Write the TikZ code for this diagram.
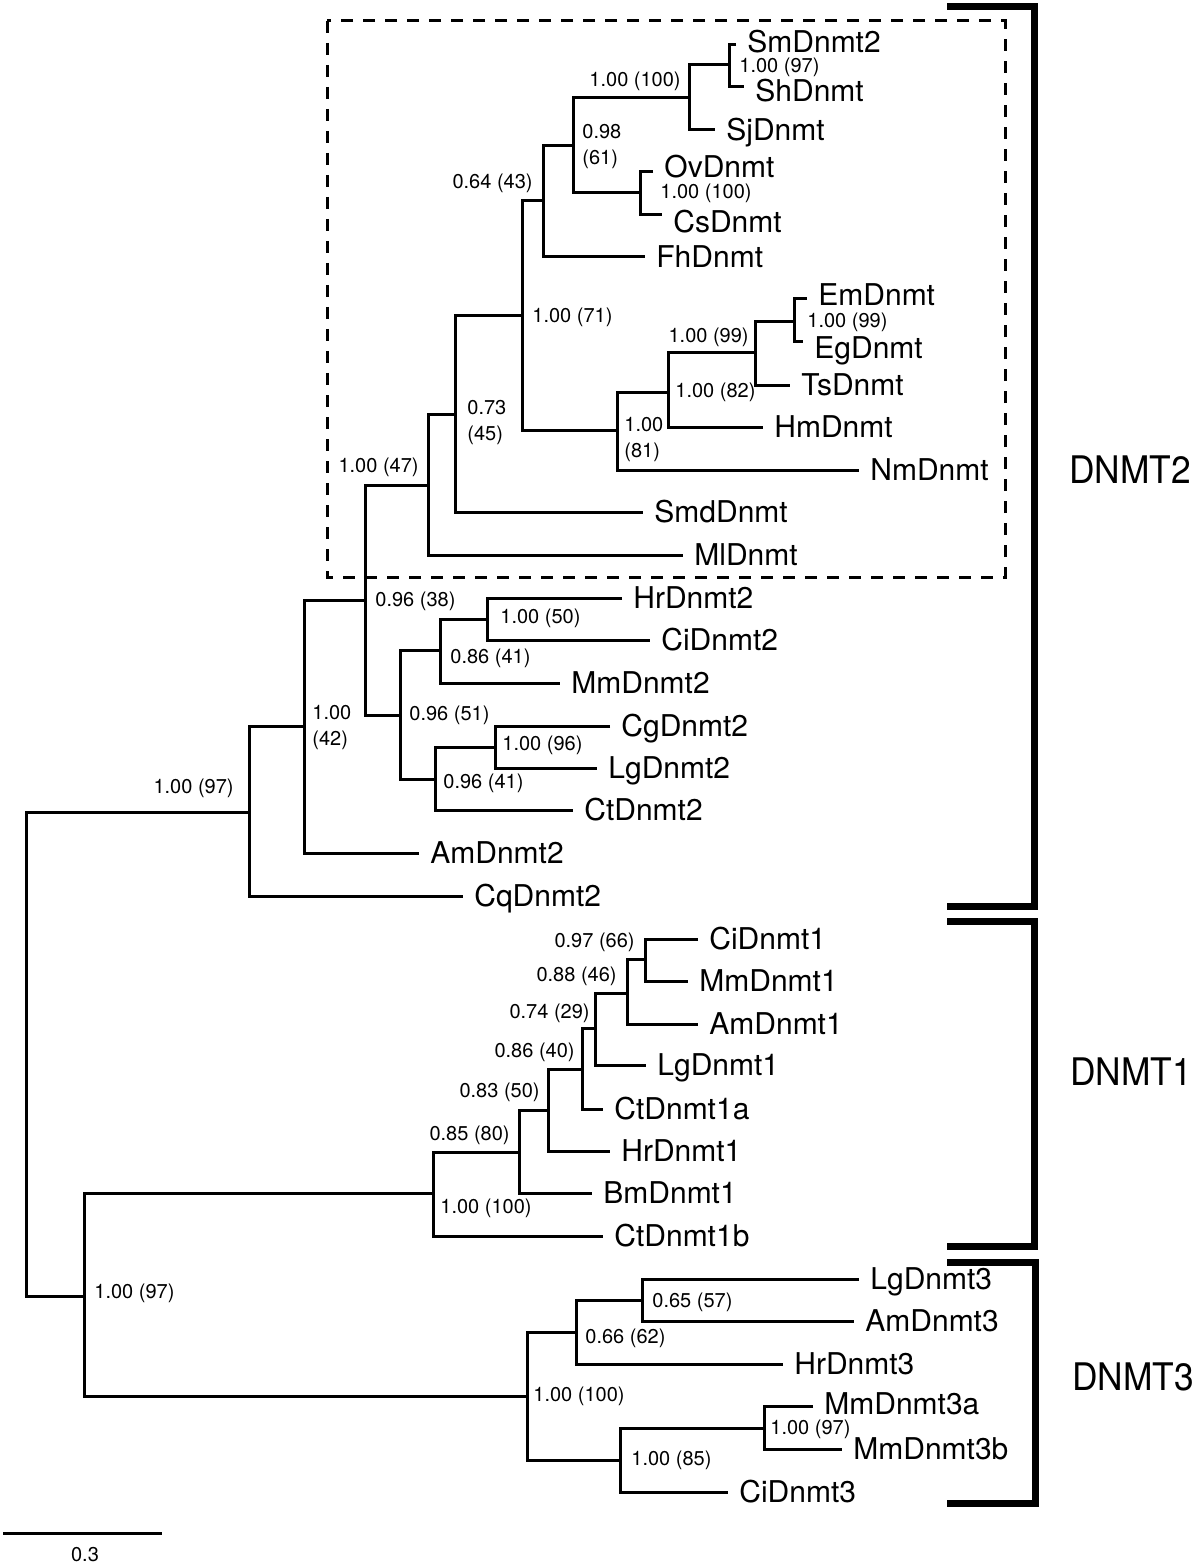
\documentclass[tikz,border=0pt]{standalone}
\usepackage{fontspec}
\setmainfont{TeX Gyre Heros}
\begin{document}
\begin{tikzpicture}[x=0.5pt,y=-0.5pt,
  br/.style={line width=1.5pt},
  leaf/.style={anchor=west, inner xsep=5.5pt, inner ysep=0pt, font=\fontsize{15}{18}\selectfont, text height=10.8pt, text depth=0pt},
  bs/.style={font=\fontsize{10}{13}\selectfont, inner sep=0pt, text height=7.3pt, text depth=2.1pt},
  bsr/.style={bs, anchor=west},
  bsl/.style={bs, anchor=east},
  bs2/.style={font=\fontsize{10}{13}\selectfont, inner sep=0pt, align=left, anchor=west},
  clade/.style={line width=3.5pt, line join=miter},
  cladelbl/.style={font=\fontsize{19}{22}\selectfont, xscale=0.93, inner sep=0pt},
  dbox/.style={line width=1.5pt, dash pattern=on 6pt off 5pt}
]
\useasboundingbox (0,0) rectangle (1200,1567);

% ---------- leaves ----------
\node[leaf, text depth=3.5pt] (SmDnmt2) at (736,45) {SmDnmt2};
\node[leaf, text height=14.8pt] (ShDnmt) at (744,87) {ShDnmt};
\node[leaf] (SjDnmt) at (715,130) {SjDnmt};
\node[leaf, text depth=5pt] (OvDnmt) at (653,172) {OvDnmt};
\node[leaf, text height=17.8pt] (CsDnmt) at (662,215) {CsDnmt};
\node[leaf] (FhDnmt) at (645,257) {FhDnmt};
\node[leaf, text depth=4pt] (EmDnmt) at (807,299) {EmDnmt};
\node[leaf, text height=16.8pt] (EgDnmt) at (803,342) {EgDnmt};
\node[leaf] (TsDnmt) at (790,385) {TsDnmt};
\node[leaf] (HmDnmt) at (763,427) {HmDnmt};
\node[leaf] (NmDnmt) at (859,470) {NmDnmt};
\node[leaf] (SmdDnmt) at (643,512) {SmdDnmt};
\node[leaf] (MlDnmt) at (683,555) {MlDnmt};
\node[leaf] (HrDnmt2) at (622,598) {HrDnmt2};
\node[leaf] (CiDnmt2) at (650,640) {CiDnmt2};
\node[leaf] (MmDnmt2) at (560,683) {MmDnmt2};
\node[leaf] (CgDnmt2) at (610,726) {CgDnmt2};
\node[leaf] (LgDnmt2) at (597,768) {LgDnmt2};
\node[leaf] (CtDnmt2) at (573,810) {CtDnmt2};
\node[leaf] (AmDnmt2) at (419,853) {AmDnmt2};
\node[leaf] (CqDnmt2) at (463,896) {CqDnmt2};
\node[leaf] (CiDnmt1) at (698,939) {CiDnmt1};
\node[leaf] (MmDnmt1) at (688,981) {MmDnmt1};
\node[leaf] (AmDnmt1) at (698,1024) {AmDnmt1};
\node[leaf] (LgDnmt1) at (646,1065) {LgDnmt1};
\node[leaf] (CtDnmt1a) at (603,1109) {CtDnmt1a};
\node[leaf] (HrDnmt1) at (610,1151) {HrDnmt1};
\node[leaf] (BmDnmt1) at (592,1193) {BmDnmt1};
\node[leaf] (CtDnmt1b) at (603,1236) {CtDnmt1b};
\node[leaf] (LgDnmt3) at (859,1279) {LgDnmt3};
\node[leaf] (AmDnmt3) at (854,1321) {AmDnmt3};
\node[leaf] (HrDnmt3) at (783,1364) {HrDnmt3};
\node[leaf, text depth=2pt] (MmDnmt3a) at (813,1406) {MmDnmt3a};
\node[leaf] (MmDnmt3b) at (842,1449) {MmDnmt3b};
\node[leaf] (CiDnmt3) at (728,1492) {CiDnmt3};

% ---------- internal nodes ----------
\coordinate (nSmSh) at (729,65);
\coordinate (nA) at (689,98);
\coordinate (nOvCs) at (640,193);
\coordinate (nB) at (573,146);
\coordinate (nC) at (543,201);
\coordinate (nEmEg) at (794,322);
\coordinate (nTs) at (755,353);
\coordinate (nHm) at (668,392);
\coordinate (nNm) at (617,430);
\coordinate (nD) at (522,316);
\coordinate (nE) at (455,414);
\coordinate (nF) at (428,485);
\coordinate (nHrCi) at (487,619);
\coordinate (nMm2) at (440,650);
\coordinate (nCgLg) at (495,747);
\coordinate (nCt2) at (435,779);
\coordinate (n51) at (400,715);
\coordinate (nG) at (365,600);
\coordinate (nI) at (304,726);
\coordinate (nJ) at (249,812);
\coordinate (nCiMm1) at (645,959);
\coordinate (nAm1) at (627,993);
\coordinate (nLg1) at (595,1028);
\coordinate (nCt1a) at (582,1069);
\coordinate (nHr1) at (548,1110);
\coordinate (nBm) at (519,1152);
\coordinate (nCt1b) at (433,1193);
\coordinate (nLgAm3) at (642,1300);
\coordinate (nHr3) at (576,1332);
\coordinate (nMm3) at (764,1428);
\coordinate (nCi3) at (620,1460);
\coordinate (n100) at (527,1396);
\coordinate (nK) at (84,1296);
\coordinate (root) at (26,1054);

% ---------- branches ----------
\draw[br] (SmDnmt2.west) -| (nSmSh) |- (ShDnmt.west);
\draw[br] (nSmSh) -| (nA) |- (SjDnmt.west);
\draw[br] (OvDnmt.west) -| (nOvCs) |- (CsDnmt.west);
\draw[br] (nA) -| (nB) |- (nOvCs);
\draw[br] (nB) -| (nC) |- (FhDnmt.west);
\draw[br] (EmDnmt.west) -| (nEmEg) |- (EgDnmt.west);
\draw[br] (nEmEg) -| (nTs) |- (TsDnmt.west);
\draw[br] (nTs) -| (nHm) |- (HmDnmt.west);
\draw[br] (nHm) -| (nNm) |- (NmDnmt.west);
\draw[br] (nC) -| (nD) |- (nNm);
\draw[br] (nD) -| (nE) |- (SmdDnmt.west);
\draw[br] (nE) -| (nF) |- (MlDnmt.west);
\draw[br] (HrDnmt2.west) -| (nHrCi) |- (CiDnmt2.west);
\draw[br] (nHrCi) -| (nMm2) |- (MmDnmt2.west);
\draw[br] (CgDnmt2.west) -| (nCgLg) |- (LgDnmt2.west);
\draw[br] (nCgLg) -| (nCt2) |- (CtDnmt2.west);
\draw[br] (nMm2) -| (n51) |- (nCt2);
\draw[br] (nF) -| (nG) |- (n51);
\draw[br] (nG) -| (nI) |- (AmDnmt2.west);
\draw[br] (nI) -| (nJ) |- (CqDnmt2.west);
\draw[br] (CiDnmt1.west) -| (nCiMm1) |- (MmDnmt1.west);
\draw[br] (nCiMm1) -| (nAm1) |- (AmDnmt1.west);
\draw[br] (nAm1) -| (nLg1) |- (LgDnmt1.west);
\draw[br] (nLg1) -| (nCt1a) |- (CtDnmt1a.west);
\draw[br] (nCt1a) -| (nHr1) |- (HrDnmt1.west);
\draw[br] (nHr1) -| (nBm) |- (BmDnmt1.west);
\draw[br] (nBm) -| (nCt1b) |- (CtDnmt1b.west);
\draw[br] (LgDnmt3.west) -| (nLgAm3) |- (AmDnmt3.west);
\draw[br] (nLgAm3) -| (nHr3) |- (HrDnmt3.west);
\draw[br] (MmDnmt3a.west) -| (nMm3) |- (MmDnmt3b.west);
\draw[br] (nMm3) -| (nCi3) |- (CiDnmt3.west);
\draw[br] (nHr3) -| (n100) |- (nCi3);
\draw[br] (nCt1b) -| (nK) |- (n100);
\draw[br] (nJ) -| (root) |- (nK);

% ---------- support labels ----------
\node[bsr] (lSmSh) at (739,67) {1.00 (97)};
\node[bsl] (lA) at (681,81) {1.00 (100)};
\node[bsr] (lOvCs) at (660,193) {1.00 (100)};
\node[bs2] (lB) at (582,147) {0.98\\(61)};
\node[bsl] (lC) at (533,183) {0.64 (43)};
\node[bsr] (lEmEg) at (807,322) {1.00 (99)};
\node[bsl] (lTs) at (749,337) {1.00 (99)};
\node[bsr] (lHm) at (675,392) {1.00 (82)};
\node[bs2] (lNm) at (624,440) {1.00\\(81)};
\node[bsr] (lD) at (532,317) {1.00 (71)};
\node[bs2] (lE) at (467,423) {0.73\\(45)};
\node[bsl] (lF) at (419,467) {1.00 (47)};
\node[bsr] (lHrCi) at (500,618) {1.00 (50)};
\node[bsr] (lMm2) at (450,658) {0.86 (41)};
\node[bsr] (lCgLg) at (502,745) {1.00 (96)};
\node[bsr] (lCt2) at (443,783) {0.96 (41)};
\node[bsr] (l51) at (409,715) {0.96 (51)};
\node[bsr] (lG) at (375,601) {0.96 (38)};
\node[bs2] (lI) at (312,728) {1.00\\(42)};
\node[bsl] (lJ) at (234,788) {1.00 (97)};
\node[bsl] (lCiMm1) at (635,942) {0.97 (66)};
\node[bsl] (lAm1) at (617,976) {0.88 (46)};
\node[bsl] (lLg1) at (590,1013) {0.74 (29)};
\node[bsl] (lCt1a) at (575,1052) {0.86 (40)};
\node[bsl] (lHr1) at (540,1092) {0.83 (50)};
\node[bsl] (lBm) at (510,1135) {0.85 (80)};
\node[bsr] (lCt1b) at (440,1208) {1.00 (100)};
\node[bsr] (lLgAm3) at (652,1302) {0.65 (57)};
\node[bsr] (lHr3) at (585,1338) {0.66 (62)};
\node[bsr] (lMm3) at (770,1429) {1.00 (97)};
\node[bsr] (lCi3) at (631,1460) {1.00 (85)};
\node[bsr] (l100) at (533,1396) {1.00 (100)};
\node[bsr] (lK) at (94,1293) {1.00 (97)};

% ---------- dashed box ----------
\draw[dbox] (327,21) rectangle (1005,577);

% ---------- clade brackets ----------
\draw[clade] (947,7) -- (1034,7) -- (1034,906) -- (947,906);
\draw[clade] (947,921) -- (1034,921) -- (1034,1246) -- (947,1246);
\draw[clade] (947,1262) -- (1035,1262) -- (1035,1503) -- (947,1503);
\node[cladelbl] (DNMT2) at (1130,470) {DNMT2};
\node[cladelbl] (DNMT1) at (1131,1072) {DNMT1};
\node[cladelbl] (DNMT3) at (1133,1377) {DNMT3};

% ---------- scale bar ----------
\coordinate (sb1) at (3,1533);
\coordinate (sb2) at (162,1533);
\draw[line width=1.5pt] (sb1) -- (sb2);
\node[bs] (sblbl) at (85,1556) {0.3};
\end{tikzpicture}
\end{document}
